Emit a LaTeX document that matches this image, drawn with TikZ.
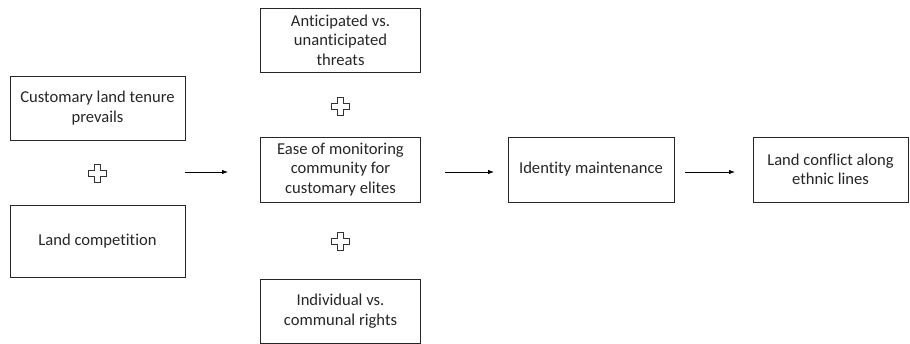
\documentclass[tikz,border=0pt]{standalone}
\usepackage{fontspec}
\setmainfont[Ligatures={NoCommon}]{Carlito}
\usetikzlibrary{arrows.meta,calc}
\tikzset{
  box/.style={draw=black!85, line width=0.8pt, align=center, inner sep=2pt,
    font=\fontsize{16.6}{19.5}\selectfont, text=black!85},
  flow/.style={line width=0.8pt, -{Latex[length=6pt,width=4.5pt]}},
  pics/plus/.style={code={
    \draw[line width=0.7pt, fill=white, draw=black!80]
      (-3,-9) -- (3,-9) -- (3,-3) -- (9,-3) -- (9,3) -- (3,3) -- (3,9)
      -- (-3,9) -- (-3,3) -- (-9,3) -- (-9,-3) -- (-3,-3) -- cycle;
  }}
}
\begin{document}
\begin{tikzpicture}[x=1pt,y=-1pt]
\useasboundingbox (0,0) rectangle (910,344);
\node[box, minimum width=175pt, minimum height=64pt] (tenure) at (97.5,108) {Customary land tenure\\prevails};
\node[box, minimum width=175pt, minimum height=72pt] (comp) at (97.5,241) {Land competition};
\node[box, minimum width=160pt, minimum height=64pt] (threat) at (340.5,40) {Anticipated vs.\\unanticipated\\threats};
\node[box, minimum width=160pt, minimum height=65pt] (ease) at (340.5,169.5) {Ease of monitoring\\community for\\customary elites};
\node[box, minimum width=160pt, minimum height=64pt] (indiv) at (340.5,311) {Individual vs.\\communal rights};
\node[box, minimum width=166pt, minimum height=65pt] (ident) at (591,169.5) {Identity maintenance};
\node[box, minimum width=155pt, minimum height=65pt] (conf) at (830.5,169.5) {Land conflict along\\ethnic lines};
\pic at (97.5,173) {plus};
\pic at (340.5,106) {plus};
\pic at (340.5,241) {plus};
\coordinate (a1s) at (185,172);
\coordinate (a1e) at (228,172);
\coordinate (a2s) at (445,172);
\coordinate (a2e) at (494,172);
\coordinate (a3s) at (685,172);
\coordinate (a3e) at (735,172);
\draw[flow] (a1s) -- (a1e);
\draw[flow] (a2s) -- (a2e);
\draw[flow] (a3s) -- (a3e);
\end{tikzpicture}
\end{document}
